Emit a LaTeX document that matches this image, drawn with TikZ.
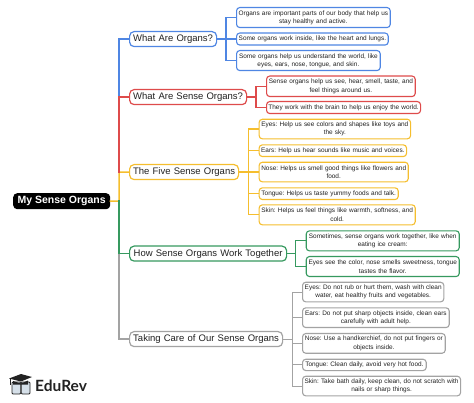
\documentclass[tikz,border=0pt]{standalone}
\usepackage{fontspec}
\setmainfont{Liberation Sans}
\newfontfamily\logofont{Lato}
\definecolor{cblue}{HTML}{4F86E3}
\definecolor{cred}{HTML}{DE4B4B}
\definecolor{cyel}{HTML}{F5BE2E}
\definecolor{cgrn}{HTML}{36995F}
\definecolor{cgry}{HTML}{A3A3A3}
\definecolor{ink}{HTML}{222222}
\definecolor{bookfill}{HTML}{D5DFE8}
\tikzset{
 x=1pt,y=-1pt,
 box/.style={draw=#1,line width=1.1pt,rounded corners=3.2pt,fill=white,inner sep=0pt,align=center,text=ink},
 topic/.style={box=#1,font=\fontsize{9.5}{11}\selectfont,line width=1.2pt,rounded corners=4.5pt},
 leaf/.style={box=#1,font=\frenchspacing\fontsize{6.45}{8.4}\selectfont},
 lnk/.style={draw=#1,line width=1.5pt,line cap=rect},
 thin lnk/.style={draw=#1,line width=1.3pt,line cap=rect},
}
\newcommand{\bx}[8]{% name, style, color, x1, y1, x2, y2, text
 \node[#2=#3,minimum width=#6pt-#4pt,minimum height=#7pt-#5pt,text width=#6pt-#4pt-1pt,anchor=north west] (#1) at (#4,#5) {#8};}
\begin{document}
\frenchspacing
\begin{tikzpicture}
\useasboundingbox (0,0) rectangle (474,403);
\node[fill=black,rounded corners=4pt,text=white,font=\bfseries\fontsize{10.5}{12}\selectfont,minimum width=97pt,minimum height=16pt,inner sep=0pt,anchor=north west] (root) at (13,193) {My Sense Organs};
\coordinate (sp0) at (119,201);
\bx{t1}{topic}{cblue}{129}{31}{216}{46}{What Are Organs?}
\bx{t2}{topic}{cred}{129}{89}{246}{104}{What Are Sense Organs?}
\bx{t3}{topic}{cyel}{129}{164}{238}{179}{The Five Sense Organs}
\bx{t4}{topic}{cgrn}{129}{245.5}{286}{260.5}{How Sense Organs Work Together}
\bx{t5}{topic}{cgry}{129}{331}{282}{346}{Taking Care of Our Sense Organs}
\bx{a1}{leaf}{cblue}{236}{7}{389.7}{27}{Organs are important parts of our body that help us\\stay healthy and active.}
\bx{a2}{leaf}{cblue}{236}{32.5}{387.7}{44.5}{Some organs work inside, like the heart and lungs.}
\bx{a3}{leaf}{cblue}{236}{50}{379.7}{70}{Some organs help us understand the world, like\\eyes, ears, nose, tongue, and skin.}
\bx{b1}{leaf}{cred}{266}{75.5}{414.7}{96}{Sense organs help us see, hear, smell, taste, and\\feel things around us.}
\bx{b2}{leaf}{cred}{266}{101}{420}{113}{They work with the brain to help us enjoy the world.}
\bx{c1}{leaf}{cyel}{258.6}{118.7}{410}{138.3}{Eyes: Help us see colors and shapes like toys and\\the sky.}
\bx{c2}{leaf}{cyel}{258.6}{144.3}{406}{156}{Ears: Help us hear sounds like music and voices.}
\bx{c3}{leaf}{cyel}{258.6}{161.7}{407.7}{181.3}{Nose: Helps us smell good things like flowers and\\food.}
\bx{c4}{leaf}{cyel}{258.6}{187.3}{397.7}{199}{Tongue: Helps us taste yummy foods and talk.}
\bx{c5}{leaf}{cyel}{258.6}{204.3}{414.7}{224.3}{Skin: Helps us feel things like warmth, softness, and\\cold.}
\bx{d1}{leaf}{cgrn}{305.7}{230.3}{458.7}{250.3}{Sometimes, sense organs work together, like when\\eating ice cream:}
\bx{d2}{leaf}{cgrn}{305.7}{256}{458.7}{276}{Eyes see the color, nose smells sweetness, tongue\\tastes the flavor.}
\bx{e1}{leaf}{cgry}{302}{281.7}{443.3}{301.3}{Eyes: Do not rub or hurt them, wash with clean\\water, eat healthy fruits and vegetables.}
\bx{e2}{leaf}{cgry}{302}{307.3}{448.7}{327}{Ears: Do not put sharp objects inside, clean ears\\carefully with adult help.}
\bx{e3}{leaf}{cgry}{302}{333}{444.7}{352.7}{Nose: Use a handkerchief, do not put fingers or\\objects inside.}
\bx{e4}{leaf}{cgry}{302}{358.7}{425.7}{370}{Tongue: Clean daily, avoid very hot food.}
\bx{e5}{leaf}{cgry}{302}{375.7}{460}{395.3}{Skin: Take bath daily, keep clean, do not scratch with\\nails or sharp things.}
% connectors
\draw[lnk=cyel] (root.east) -- (sp0) -- (sp0 |- t3.west) -- (t3.west);
\draw[lnk=cblue] (t2.west -| sp0) -- (sp0 |- t1.west) -- (t1.west);
\draw[lnk=cred] (t3.west -| sp0) -- (sp0 |- t2.west) -- (t2.west);
\draw[lnk=cgry] (t4.west -| sp0) -- (sp0 |- t5.west) -- (t5.west);
\draw[lnk=cgrn] (sp0) -- (sp0 |- t4.west) -- (t4.west);
\foreach \n in {a1,a2,a3}{\draw[thin lnk=cblue] (t1.east) -- (226,0 |- t1.east) -- (226,0 |- \n.west) -- (\n.west);}
\foreach \n in {b1,b2}{\draw[thin lnk=cred] (t2.east) -- (256,0 |- t2.east) -- (256,0 |- \n.west) -- (\n.west);}
\foreach \n in {c1,c2,c3,c4,c5}{\draw[thin lnk=cyel] (t3.east) -- (248.3,0 |- t3.east) -- (248.3,0 |- \n.west) -- (\n.west);}
\foreach \n in {d1,d2}{\draw[thin lnk=cgrn] (t4.east) -- (295.3,0 |- t4.east) -- (295.3,0 |- \n.west) -- (\n.west);}
\foreach \n in {e1,e2,e3,e4,e5}{\draw[thin lnk=cgry,line width=1pt] (t5.east) -- (292,0 |- t5.east) -- (292,0 |- \n.west) -- (\n.west);}
% logo
\draw[ink,line width=0.8pt,fill=bookfill,rounded corners=1pt] (12,382) rectangle (20.7,394);
\draw[ink,line width=0.8pt,fill=bookfill,rounded corners=1pt] (21.3,382) rectangle (30,394);
\fill[ink] (9,378.5) -- (21,374) -- (32,377) -- (21,381.5) -- cycle;
\fill[ink] (13,381) -- (21,383.5) -- (28,380.5) -- (28,384.5) -- (13,384.5) -- cycle;
\draw[ink,line width=0.7pt] (10,379) -- (10,385);
\node[font=\logofont\bfseries\fontsize{15.5}{17}\selectfont,text=ink,anchor=west,inner sep=0pt] (logo) at (35,386) {EduRev};
\end{tikzpicture}
\end{document}
